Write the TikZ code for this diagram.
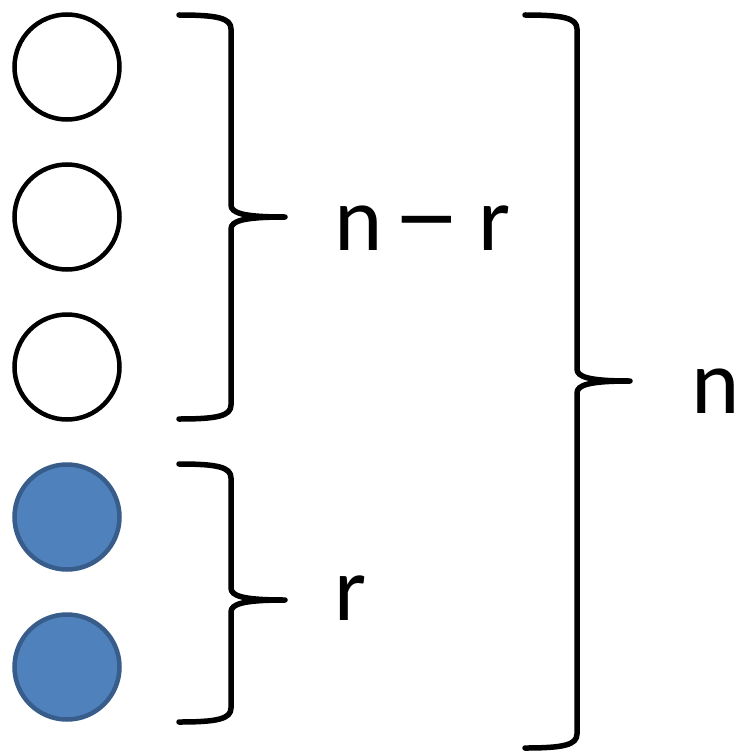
\documentclass[tikz,border=0pt]{standalone}
\usepackage{fontspec}
\setmainfont{Carlito}
\usepackage{tikz}

\definecolor{ballfill}{HTML}{4F81BD}
\definecolor{balledge}{HTML}{385D8A}

% right brace: x-left, x-stem, x-tip, y-top, y-tip, y-bottom
\newcommand{\bracepath}[6]{%
  \draw[line width=5.5pt, line cap=round, line join=round]
    (#1, #4) .. controls (#2-14, #4) and (#2, #4+3) .. (#2, #4+14)
    -- (#2, #5-12) .. controls (#2, #5-4) and (#2+12, #5) .. (#3, #5)
    (#3, #5) .. controls (#2+12, #5) and (#2, #5+4) .. (#2, #5+12)
    -- (#2, #6-14) .. controls (#2, #6-3) and (#2-14, #6) .. (#1, #6);}

\begin{document}
\begin{tikzpicture}[x=1pt, y=-1pt]
    \useasboundingbox (0, 0) rectangle (740, 752);

    \node[draw, circle, line width=4.5pt, minimum size=105pt] (w1) at (67, 67) {};
    \node[draw, circle, line width=4.5pt, minimum size=105pt] (w2) at (67, 217) {};
    \node[draw, circle, line width=4.5pt, minimum size=105pt] (w3) at (67, 367) {};
    \node[draw=balledge, fill=ballfill, circle, line width=4.5pt, minimum size=105pt] (b1) at (67, 517) {};
    \node[draw=balledge, fill=ballfill, circle, line width=4.5pt, minimum size=105pt] (b2) at (67, 667) {};

    \bracepath{179}{231}{285}{15}{217}{419}
    \node[anchor=base west, inner sep=0pt, font=\fontsize{92}{100}\selectfont] (nr) at (334, 250)
        {n\hspace{10pt}\scalebox{1.5}[1.2]{–}\hspace{17pt}r};

    \bracepath{179}{231}{285}{464}{600}{722}
    \node[anchor=base west, inner sep=0pt, font=\fontsize{92}{100}\selectfont] (r) at (334, 620) {r};

    \bracepath{525}{577}{630}{15}{381}{748}
    \node[anchor=base west, inner sep=0pt, font=\fontsize{92}{100}\selectfont] (n) at (691, 413) {n};
\end{tikzpicture}
\end{document}
